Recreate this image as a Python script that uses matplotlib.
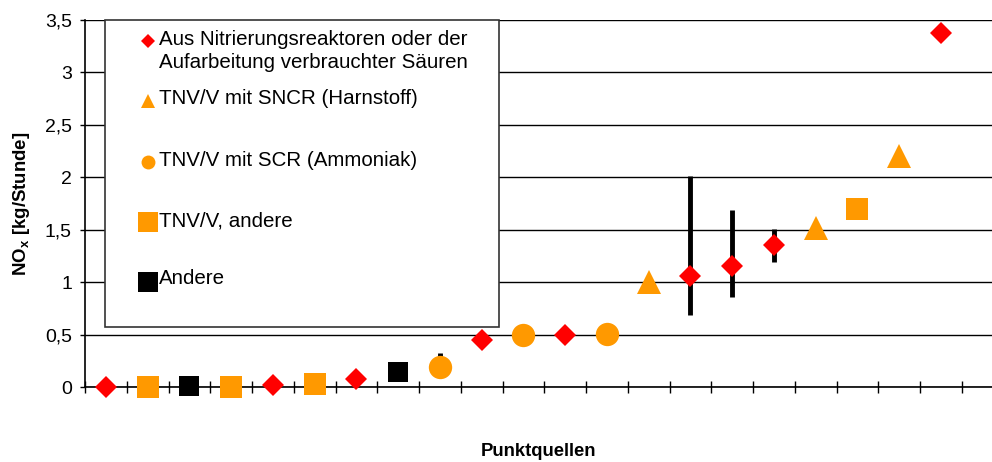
import matplotlib.pyplot as plt
from matplotlib.patches import Rectangle
from matplotlib.ticker import FuncFormatter

plt.rcParams['font.family'] = ['Liberation Sans', 'DejaVu Sans']
plt.rcParams['mathtext.fontset'] = 'custom'
plt.rcParams['mathtext.rm'] = 'Liberation Sans:bold'

# Punktquellen, sortiert nach NOx-Fracht
pos = list(range(1, 22))
kategorie = ['nitr', 'andere_tnv', 'andere', 'andere_tnv', 'nitr', 'andere_tnv',
             'nitr', 'andere', 'scr', 'nitr', 'scr', 'nitr', 'scr', 'sncr',
             'nitr', 'nitr', 'nitr', 'sncr', 'andere_tnv', 'sncr', 'nitr']
nox = [0.0, 0.0, 0.01, 0.0, 0.02, 0.03, 0.08, 0.14, 0.19, 0.45, 0.50, 0.50,
       0.51, 1.00, 1.06, 1.15, 1.35, 1.52, 1.70, 2.20, 3.38]

# Schwankungsbreite (min/max) für einzelne Quellen
err_pos = [9, 15, 16, 17]
err_val = [0.19, 1.06, 1.15, 1.35]
err_min = [0.19, 0.69, 0.86, 1.19]
err_max = [0.32, 2.01, 1.69, 1.51]

stile = {
    'nitr': dict(marker='D', color='#ff0000', ms=11.2, lms=7.0,
                 label='Aus Nitrierungsreaktoren oder der\nAufarbeitung verbrauchter Säuren'),
    'sncr': dict(marker='^', color='#ff9900', ms=16.8, lms=10.5,
                 label='TNV/V mit SNCR (Harnstoff)'),
    'scr': dict(marker='o', color='#ff9900', ms=16.8, lms=10.0,
                label='TNV/V mit SCR (Ammoniak)'),
    'andere_tnv': dict(marker='s', color='#ff9900', ms=16.3, lms=13.7,
                       label='TNV/V, andere'),
    'andere': dict(marker='s', color='#000000', ms=14.4, lms=13.7,
                   label='Andere'),
}

fig = plt.figure(figsize=(9.92, 4.62), dpi=100)
ax = fig.add_axes([85 / 992, 1 - 387 / 462, 907 / 992, 367 / 462])

ax.set_yticks([0, 0.5, 1, 1.5, 2, 2.5, 3, 3.5])
ax.yaxis.set_major_formatter(FuncFormatter(lambda v, _: f'{v:g}'.replace('.', ',')))
ax.set_xticks([k + 0.5 for k in range(0, 23)])
ax.set_xticklabels([])
# Grenzen erst nach den Ticks setzen, sonst erweitert set_xticks sie
ax.set_ylim(0, 3.5)
ax.set_xlim(0.5, 0.5 + 907 / 41.75)
ax.grid(axis='y', color='black', linewidth=1.0)
ax.set_axisbelow(True)

for s in ['top', 'right']:
    ax.spines[s].set_visible(False)
ax.spines['left'].set_linewidth(1.2)
ax.spines['bottom'].set_linewidth(1.2)
ax.tick_params(axis='y', direction='out', length=3.6, width=1.0, labelsize=14, pad=5.8)
ax.tick_params(axis='x', direction='inout', length=9, width=1.0)

# Fehlerbalken
for p, v, lo, hi in zip(err_pos, err_val, err_min, err_max):
    ax.errorbar([p], [v], yerr=[[v - lo], [hi - v]], fmt='none',
                ecolor='black', elinewidth=3.5, capsize=0, zorder=3)

for p, k, v in zip(pos, kategorie, nox):
    st = stile[k]
    ax.plot(p, v, linestyle='none', marker=st['marker'], color=st['color'],
            markersize=st['ms'], markeredgewidth=0, clip_on=False, zorder=4)

ax.set_ylabel(r'NO$_\mathrm{x}$ [kg/Stunde]', fontsize=13.4, fontweight='bold')
ax.yaxis.set_label_coords((32 - 85) / 907, 0.5)
ax.set_xlabel('Punktquellen', fontsize=13.3, fontweight='bold', va='center')
ax.xaxis.set_label_coords(0.5, (387 - 452) / 367)

# Legende als Kasten in Pixelkoordinaten der Achse
def px(x, y):
    return ((x - 85) / 907, (387 - y) / 367)

x0, y0 = px(105, 327)
x1, y1 = px(499, 20)
ax.add_patch(Rectangle((x0, y0), x1 - x0, y1 - y0, transform=ax.transAxes,
                       facecolor='white', edgecolor='#333333', linewidth=1.2,
                       clip_on=False, zorder=5))

eintraege = [('nitr', 41, 51), ('sncr', 101, 99), ('scr', 162, 160),
             ('andere_tnv', 222, 221), ('andere', 282, 279)]
for k, ym, yt in eintraege:
    st = stile[k]
    mx, my = px(148, ym)
    ax.plot(mx, my, transform=ax.transAxes, linestyle='none', marker=st['marker'],
            color=st['color'], markersize=st['lms'], markeredgewidth=0,
            clip_on=False, zorder=6)
    tx, ty = px(159, yt)
    ax.text(tx, ty, st['label'], transform=ax.transAxes, fontsize=14.8,
            va='center', ha='left', linespacing=1.32, zorder=6)

fig.savefig('out.png', dpi=100)
